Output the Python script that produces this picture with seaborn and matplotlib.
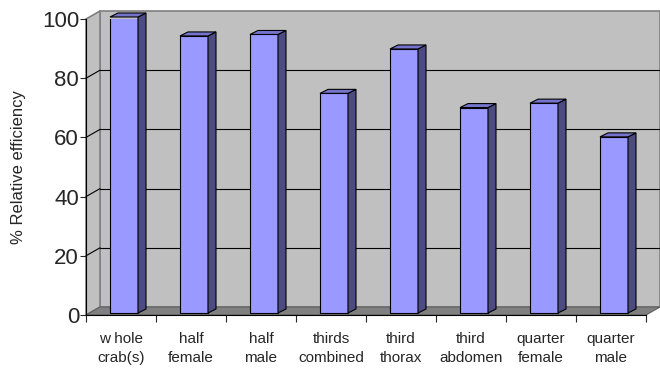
import numpy as np
import pandas as pd
import seaborn as sns
import matplotlib.pyplot as plt
from matplotlib.patches import Polygon

# data
categories = ['w hole\ncrab(s)', 'half\nfemale', 'half\nmale', 'thirds\ncombined',
              'third\nthorax', 'third\nabdomen', 'quarter\nfemale', 'quarter\nmale']
efficiency = [100, 93.6, 94.1, 74.2, 89.2, 69.4, 70.9, 59.5]
yticks = [0, 20, 40, 60, 80, 100]

sns.set_style("white")
plt.rcParams['font.family'] = ['Liberation Sans', 'DejaVu Sans']

df = pd.DataFrame({'part': categories, 'eff': efficiency})

fig = plt.figure(figsize=(6.6, 3.69), dpi=100)
ax = fig.add_axes([86 / 660, 1 - 315 / 369, 560 / 660, 296 / 369])

sns.barplot(data=df, x='part', y='eff', color='#9999ff', width=0.4,
            edgecolor='black', linewidth=0.8, saturation=1, ax=ax, zorder=3)

ax.set_xlim(-0.5, len(categories) - 0.5)
ax.set_ylim(0, 100)

# pixel -> data units
px_x = 1 / 70
px_y = 100 / 296
back_dx, back_dy = 14 * px_x, 8 * px_y
n = len(categories)

# walls and floor
x0, x1 = -0.5, n - 0.5
wall = Polygon([(x0 + back_dx, back_dy), (x1 + back_dx, back_dy),
                (x1 + back_dx, 100 + back_dy), (x0 + back_dx, 100 + back_dy)],
               closed=True, facecolor='#c0c0c0', edgecolor='#808080', lw=1.2,
               zorder=0.5, clip_on=False)
side = Polygon([(x0, 0), (x0 + back_dx, back_dy), (x0 + back_dx, 100 + back_dy), (x0, 100)],
               closed=True, facecolor='#c0c0c0', edgecolor='#808080', lw=1.2,
               zorder=0.5, clip_on=False)
floor = Polygon([(x0, 0), (x1, 0), (x1 + back_dx, back_dy), (x0 + back_dx, back_dy)],
                closed=True, facecolor='#808080', edgecolor='#606060', lw=0.8,
                zorder=0.6, clip_on=False)
for p in (wall, side, floor):
    ax.add_patch(p)

for v in yticks[1:-1]:
    ax.plot([x0 + back_dx, x1 + back_dx], [v + back_dy, v + back_dy],
            color='black', lw=0.8, zorder=0.7, clip_on=False)
    ax.plot([x0, x0 + back_dx], [v, v + back_dy], color='black', lw=0.8,
            zorder=0.7, clip_on=False)

# 3d faces of the bars
dx, dy = 8 * px_x, 4 * px_y
for patch in ax.patches:
    if not hasattr(patch, 'get_width') or patch in (wall, side, floor):
        continue
    patch.set_x(patch.get_x() + 3 * px_x)
    patch.set_y(2 * px_y)
    bx0 = patch.get_x()
    bx1 = bx0 + patch.get_width()
    by0 = patch.get_y()
    by1 = by0 + patch.get_height()
    ax.add_patch(Polygon([(bx1, by0), (bx1 + dx, by0 + dy), (bx1 + dx, by1 + dy), (bx1, by1)],
                         closed=True, facecolor='#4c4c82', edgecolor='black', lw=0.8,
                         zorder=3, clip_on=False))
    ax.add_patch(Polygon([(bx0, by1), (bx1, by1), (bx1 + dx, by1 + dy), (bx0 + dx, by1 + dy)],
                         closed=True, facecolor='#7474cc', edgecolor='black', lw=0.8,
                         zorder=3, clip_on=False))

sns.despine(ax=ax, top=True, right=True)
ax.spines['left'].set_color('black')
ax.spines['bottom'].set_color('black')
ax.spines['left'].set_zorder(4)
ax.spines['bottom'].set_zorder(4)

ax.set_yticks(yticks)
ax.set_yticklabels([str(v) for v in yticks], fontsize=16)
ax.tick_params(axis='y', direction='out', length=4, width=0.8, pad=1, left=True)

ax.set_xticks(np.arange(n + 1) - 0.5, minor=True)
ax.set_xticks(np.arange(n))
ax.set_xticklabels(categories, fontsize=11, linespacing=1.45)
ax.tick_params(axis='x', which='major', length=0, pad=12)
ax.tick_params(axis='x', which='minor', direction='out', length=5, width=0.8, bottom=True)

ax.set_xlabel('')
ax.set_ylabel('% Relative efficiency', fontsize=12)
ax.yaxis.set_label_coords(-0.108, 0.5)

fig.savefig('out.png', dpi=100)
